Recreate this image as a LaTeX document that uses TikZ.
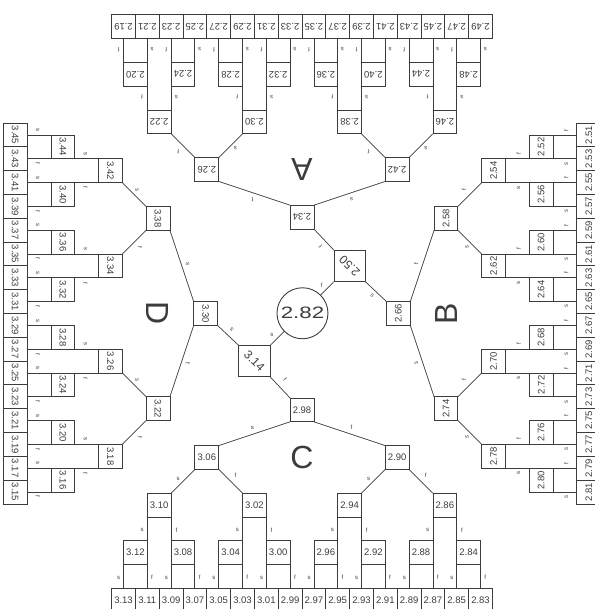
\documentclass[tikz,border=0pt]{standalone}
\usepackage{fontspec}
\setmainfont{Liberation Sans}
\definecolor{ink}{HTML}{3C3C3C}
\newcommand\mknum[1]{\pgfmathtruncatemacro{\nhi}{div(#1,100)}\pgfmathtruncatemacro{\nlo}{mod(#1,100)}\nhi.\ifnum\nlo<10 0\fi\nlo}
\tikzset{
  cell/.style={draw=ink, line width=0.8pt, minimum width=23.8pt, minimum height=23.8pt, inner sep=0pt, outer sep=0pt, font=\fontsize{9.5}{10}\selectfont, text=ink, transform shape},
  stem/.style={draw=ink, line width=0.8pt, minimum width=23.8pt, minimum height=#1, inner sep=0pt, outer sep=0pt, transform shape},
  link/.style={draw=ink, line width=0.7pt},
  tag/.style={font=\fontsize{6}{6}\selectfont, text=ink, inner sep=0pt, transform shape},
  bigl/.style={font=\fontsize{32}{32}\selectfont, text=ink, inner sep=0pt, transform shape},
  diagbox/.style={draw=ink, line width=0.8pt, minimum size=31.4pt, inner sep=0pt, outer sep=0pt},
  diagtext/.style={font=\fontsize{12}{12}\selectfont, text=ink, inner sep=0pt},
  final/.style={draw=ink, line width=0.9pt, circle, minimum size=51pt, inner sep=0pt, outer sep=0pt, font=\fontsize{16.5}{17}\selectfont, text=ink},
}
\begin{document}
\begin{tikzpicture}[x=23.8pt, y=23.8pt]
\useasboundingbox (-12.689,-12.416) rectangle (12.269,13.172);
\foreach \q/\ang/\s in {A/180/218, B/90/250, C/0/282, D/270/314} {
\begin{scope}[rotate=\ang]
  % outer row
  \foreach \k in {0,...,15} {
    \pgfmathsetmacro{\xc}{7.5-\k}
    \pgfmathtruncatemacro{\n}{\s+2*\k+1}
    \node[cell] (\q-r\k) at (\xc,-12.05) {\mknum{\n}};
    \ifodd\k
      \node[tag] (\q-t\k) at (\xc-0.2,-11.1) {s};
    \else
      \node[tag] (\q-t\k) at (\xc+0.2,-11.1) {f};
    \fi
  }
  % level 1
  \foreach \j in {0,...,7} {
    \pgfmathsetmacro{\xc}{7-2*\j}
    \pgfmathtruncatemacro{\n}{\s+2+4*\j}
    \node[cell] (\q-a\j) at (\xc,-10.05) {\mknum{\n}};
    \node[stem=23.8pt] (\q-as\j) at (\xc,-11.05) {};
  }
  % level 2
  \foreach \j in {0,...,3} {
    \pgfmathsetmacro{\xc}{6-4*\j}
    \pgfmathtruncatemacro{\n}{\s+4+8*\j}
    \node[cell] (\q-b\j) at (\xc,-8.05) {\mknum{\n}};
    \node[stem=71.4pt] (\q-bs\j) at (\xc,-10.05) {};
    \node[tag] (\q-bl\j) at (\xc-0.72,-9.1) {s};
    \node[tag] (\q-br\j) at (\xc+0.72,-9.1) {f};
  }
  % level 3
  \foreach \j in {0,1} {
    \pgfmathsetmacro{\xc}{4-8*\j}
    \pgfmathtruncatemacro{\n}{\s+8+16*\j}
    \pgfmathtruncatemacro{\jl}{2*\j+1}
    \pgfmathtruncatemacro{\jr}{2*\j}
    \node[cell] (\q-c\j) at (\xc,-6.05) {\mknum{\n}};
    \draw[link] (\q-c\j.south west) -- (\q-b\jl.north east);
    \draw[link] (\q-c\j.south east) -- (\q-b\jr.north west);
    \node[tag] (\q-cl\j) at (\xc-1.2,-6.93) {s};
    \node[tag] (\q-cr\j) at (\xc+1.2,-6.8) {f};
  }
  % level 4
  \pgfmathtruncatemacro{\n}{\s+16}
  \node[cell] (\q-d) at (0,-4.05) {\mknum{\n}};
  \draw[link] (\q-d.south west) -- (\q-c1.north east);
  \draw[link] (\q-d.south east) -- (\q-c0.north west);
  \node[tag] (\q-dl) at (-2.08,-4.8) {s};
  \node[tag] (\q-dr) at (2.08,-4.8) {f};
  \node[bigl] (\q-big) at (0,-6.05) {\q};
\end{scope}
}
% centre
\node[diagbox] (m314) at (-2,-2) {};
\node[diagtext, rotate=-45] (m314t) at (m314.center) {3.14};
\node[diagbox] (m250) at (2,2) {};
\node[diagtext, rotate=135] (m250t) at (m250.center) {2.50};
\node[final] (m282) at (0.02,0.01) {\scalebox{1.35}[1]{2.82}};
\draw[link] (C-d.north west) -- (m314.south east);
\draw[link] (D-d.north east) -- (m314.north west);
\draw[link] (A-d.north west) -- (m250.north west);
\draw[link] (B-d.north east) -- (m250.south east);
\draw[link] (m314.north east) -- (m282);
\draw[link] (m250.south west) -- (m282);
\node[tag, rotate=-45] (t314s) at (-2.95,-0.69) {s};
\node[tag, rotate=-45] (t314f) at (-0.71,-2.79) {f};
\node[tag, rotate=135] (t250f) at (0.79,2.81) {f};
\node[tag, rotate=135] (t250s) at (2.95,0.75) {s};
\node[tag] (t282s) at (-1.27,-0.90) {s};
\node[tag] (t282f) at (0.83,1.20) {f};
\end{tikzpicture}
\end{document}
